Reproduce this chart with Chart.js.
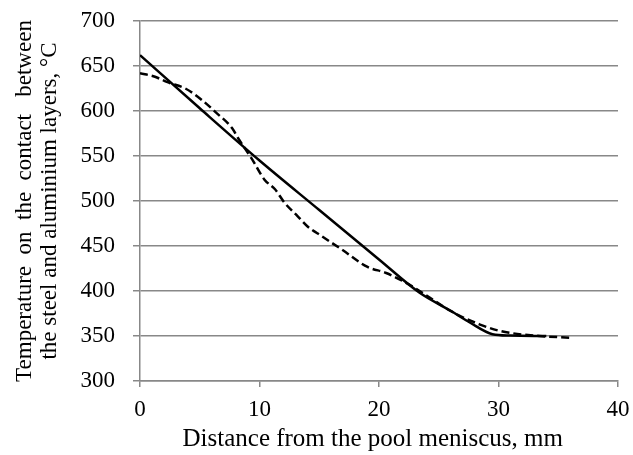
<!DOCTYPE html>
<html>
<head>
<meta charset="utf-8">
<script src="https://cdn.jsdelivr.net/npm/chart.js@4.4.1/dist/chart.umd.min.js"></script>
<style>
  html, body { margin: 0; padding: 0; background: #fff; }
  #wrap { width: 633px; height: 455px; }
</style>
</head>
<body>
<div id="wrap"><canvas id="myChart" width="633" height="455"></canvas></div>
<script>
// solid line
const solidX = [0, 5, 10, 15, 20, 23.4, 26, 27.6, 29.5, 31, 34];
const solidY = [662, 603, 545, 490, 435, 398, 378, 365, 352, 350.5, 350];
// dashed line
const dashX = [0, 1.25, 2.3, 3.8, 5.2, 6.3, 7.7, 8.2, 9.4, 10.4, 11.3, 12.1, 13.2, 14, 15.2, 16.9, 19, 20.6, 22, 23.4, 26.1, 28.4, 30, 31.2, 33.4, 36.1];
const dashY = [642, 638, 632, 625, 612, 599, 581, 570, 546, 524, 513, 498, 483, 472, 461, 446, 427, 420, 411, 400, 377, 363, 356, 353, 350, 348];

const toPts = (xs, ys) => xs.map((x, i) => ({ x: x, y: ys[i] }));
const family = "'Liberation Serif', 'Times New Roman', serif";
const font = { family: family, size: 23 };

// keep the plot area where it is in the picture
const noPad = (s) => {
  s.paddingTop = 0; s.paddingBottom = 0; s.paddingLeft = 0; s.paddingRight = 0;
};

new Chart("myChart", {
  type: "scatter",
  data: {
    datasets: [
      {
        data: toPts(solidX, solidY),
        showLine: true,
        borderColor: "#000",
        borderWidth: 2.5,
        pointRadius: 0,
        cubicInterpolationMode: "monotone",
      },
      {
        data: toPts(dashX, dashY),
        showLine: true,
        borderColor: "#000",
        borderWidth: 2.5,
        borderDash: [8, 4],
        pointRadius: 0,
        cubicInterpolationMode: "monotone",
      },
    ],
  },
  options: {
    responsive: false,
    animation: false,
    layout: { padding: { top: 21, right: 15, left: 0, bottom: 0 } },
    plugins: { legend: { display: false }, tooltip: { enabled: false } },
    scales: {
      x: {
        type: "linear",
        min: 0,
        max: 40,
        ticks: { stepSize: 10, color: "#000", font: font, padding: 9, maxRotation: 0 },
        grid: { display: true, drawOnChartArea: false, color: "#888", lineWidth: 1.5, tickLength: 6 },
        border: { color: "#888", width: 1.5 },
        title: {
          display: true,
          text: "Distance from the pool meniscus, mm" + "\u00a0\u00a0",
          color: "#000",
          font: { family: family, size: 25 },
          padding: { top: 0, bottom: 1 },
        },
        afterFit: (s) => { s.height = 74; noPad(s); },
      },
      y: {
        min: 300,
        max: 700,
        ticks: { stepSize: 50, color: "#000", font: font, padding: 18 },
        grid: { color: "#888", lineWidth: 1.5, tickLength: 7 },
        border: { color: "#888", width: 1.5 },
        title: {
          display: true,
          text: ["Temperature  on  the  contact   between", "the steel and aluminium layers, \u00b0C"],
          color: "#000",
          font: { family: family, size: 23, lineHeight: 1.09 },
          padding: { top: 12, bottom: 0 },
        },
        afterFit: (s) => { s.width = 140; noPad(s); },
      },
    },
  },
});
</script>
</body>
</html>
